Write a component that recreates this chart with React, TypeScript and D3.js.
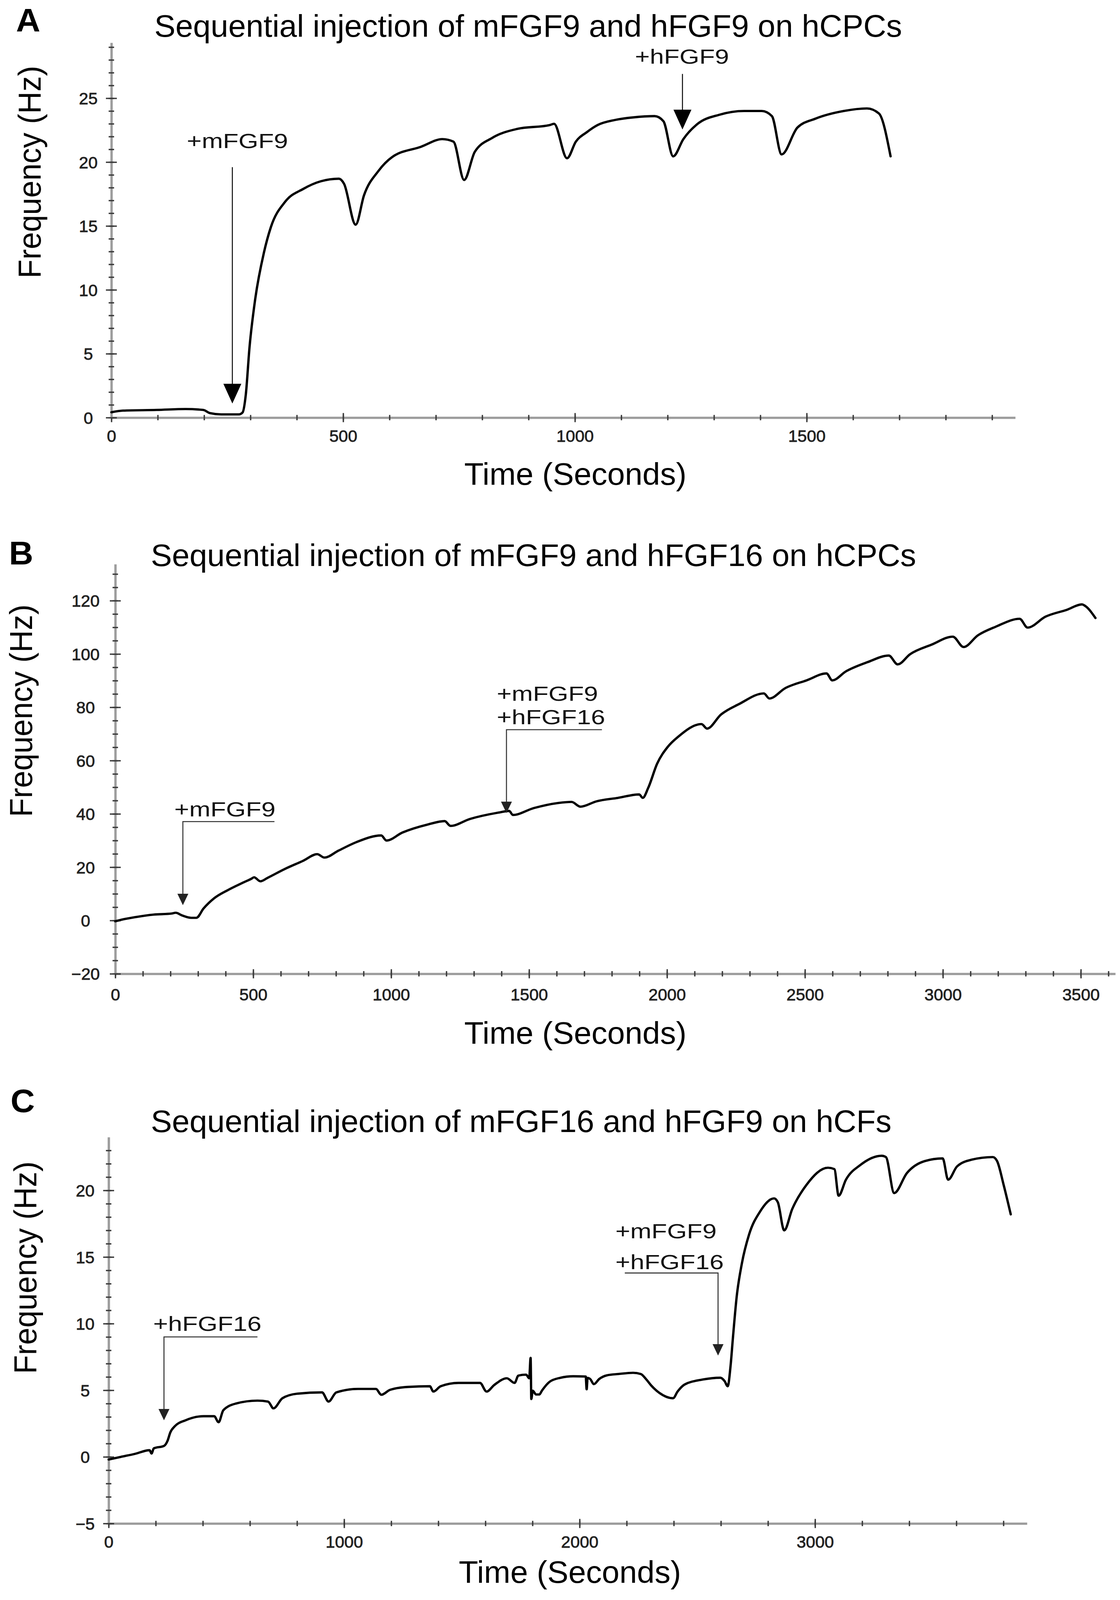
import { useEffect, useRef, useState } from 'react'
import * as d3 from 'd3'

const W = 2866
const H = 4203
const FONT = '"Liberation Sans", Arial, Helvetica, sans-serif'

// --- panel A: mFGF9 then hFGF9 on hCPCs
const timeA = [0, 25, 98, 160, 198, 213, 237, 275, 283, 290, 298, 310, 329, 344, 375, 414, 452, 491, 502, 527, 545, 576, 606, 668, 714, 738, 761, 784, 822, 876, 946, 955, 983, 1002, 1026, 1049, 1087, 1126, 1172, 1191, 1212, 1234, 1265, 1311, 1365, 1403, 1425, 1446, 1480, 1519, 1580, 1630, 1656, 1681]
const freqA = [0.42, 0.55, 0.6, 0.67, 0.6, 0.35, 0.25, 0.25, 0.4, 1.8, 5.5, 9.2, 12.9, 14.9, 16.9, 17.9, 18.5, 18.7, 18.3, 15.1, 17.4, 19.3, 20.4, 21.2, 21.8, 21.6, 18.6, 20.8, 21.9, 22.6, 22.9, 23.0, 20.3, 21.6, 22.35, 22.9, 23.3, 23.5, 23.6, 23.2, 20.45, 21.8, 23.0, 23.7, 24.0, 24.0, 23.6, 20.6, 22.7, 23.4, 24.0, 24.2, 23.8, 20.45]
const xTicksA = [0, 500, 1000, 1500]
const yTicksA = [0, 5, 10, 15, 20, 25]

// --- panel B: mFGF9 then hFGF16 on hCPCs
const timeB = [0, 23, 75, 139, 204, 219, 242, 275, 294, 320, 358, 410, 461, 494, 503, 526, 552, 616, 681, 732, 758, 809, 874, 964, 983, 1041, 1132, 1194, 1215, 1286, 1390, 1428, 1441, 1518, 1606, 1654, 1686, 1744, 1822, 1899, 1912, 1932, 1964, 2003, 2041, 2125, 2145, 2196, 2261, 2351, 2371, 2429, 2506, 2578, 2599, 2649, 2726, 2804, 2836, 2881, 2959, 3036, 3075, 3127, 3191, 3278, 3307, 3372, 3450, 3504, 3521, 3553]
const freqB = [-0.3, 0.3, 1.3, 2.2, 2.6, 2.9, 1.9, 1.0, 1.0, 4.5, 8.3, 11.5, 14.1, 15.7, 16.2, 14.7, 16, 19.4, 22.4, 24.9, 23.6, 26.2, 29.4, 31.9, 30.0, 33, 36, 37.3, 35.5, 38.1, 40.5, 41.1, 39.6, 42.2, 44.1, 44.5, 42.7, 44.7, 46, 47.3, 46, 49.8, 58.8, 65.2, 69, 73.7, 72, 77.3, 81.2, 85.2, 83.3, 87.2, 90.1, 92.7, 90.1, 93.5, 96.9, 99.4, 96.1, 99.9, 103.5, 106.5, 102.6, 107, 110.2, 113.2, 109.9, 114, 116.6, 118.6, 117.6, 113.5]
const xTicksB = [0, 500, 1000, 1500, 2000, 2500, 3000, 3500]
const yTicksB = [-20, 0, 20, 40, 60, 80, 100, 120]

// --- panel C: hFGF16 then mFGF9 + hFGF16 on hCFs
const timeC = [0, 52, 113, 174, 182, 192, 235, 250, 262, 281, 326, 403, 448, 467, 487, 540, 632, 677, 700, 738, 800, 906, 934, 967, 1059, 1135, 1158, 1196, 1272, 1364, 1379, 1410, 1486, 1577, 1605, 1638, 1691, 1724, 1740, 1773, 1786, 1792, 1795, 1801, 1815, 1829, 1840, 1873, 1917, 1973, 2026, 2030, 2034, 2045, 2061, 2083, 2116, 2166, 2227, 2260, 2282, 2304, 2339, 2397, 2416, 2446, 2522, 2598, 2616, 2629, 2641, 2651, 2667, 2689, 2720, 2766, 2826, 2842, 2869, 2903, 2963, 3055, 3082, 3100, 3131, 3192, 3283, 3301, 3336, 3390, 3466, 3542, 3565, 3603, 3664, 3755, 3773, 3801, 3831]
const freqC = [-0.2, 0, 0.23, 0.5, 0.25, 0.64, 0.82, 1.2, 1.84, 2.3, 2.74, 3.05, 3.05, 2.6, 3.5, 4.0, 4.22, 4.15, 3.64, 4.4, 4.74, 4.84, 4.15, 4.84, 5.1, 5.1, 4.66, 5.04, 5.25, 5.3, 4.9, 5.3, 5.55, 5.55, 4.9, 5.4, 5.9, 5.55, 6.1, 6.17, 5.9, 7.43, 4.34, 4.97, 4.68, 4.68, 4.97, 5.64, 5.93, 6.05, 6.03, 5.07, 5.93, 5.84, 5.46, 5.84, 6.12, 6.22, 6.31, 6.22, 5.84, 5.36, 4.8, 4.4, 4.9, 5.43, 5.8, 5.94, 5.68, 5.3, 6.8, 8.9, 12, 14.5, 16.7, 18.4, 19.4, 19.1, 17.0, 18.6, 20.4, 21.7, 21.6, 19.6, 20.8, 21.9, 22.6, 22.5, 19.8, 21.3, 22.2, 22.4, 20.8, 21.8, 22.3, 22.5, 22.2, 20.4, 18.2]
const xTicksC = [0, 1000, 2000, 3000]
const yTicksC = [-5, 0, 5, 10, 15, 20]

type Note = {
  lines: string[]
  tx: number
  ty: number[]
  anchor: 'start' | 'middle'
  path: [number, number][]
  head: 'big' | 'small'
}

const notesA: Note[] = [
  { lines: ['+mFGF9'], tx: 272, ty: [21.1], anchor: 'middle', path: [[261, 19.6], [261, 1.1]], head: 'big' },
  { lines: ['+hFGF9'], tx: 1231, ty: [27.7], anchor: 'middle', path: [[1232, 26.9], [1232, 22.55]], head: 'big' },
]
const notesB: Note[] = [
  { lines: ['+mFGF9'], tx: 214, ty: [39], anchor: 'start', path: [[577, 37.1], [245, 37.1], [245, 5.75]], head: 'small' },
  { lines: ['+mFGF9', '+hFGF16'], tx: 1383, ty: [82.4, 73.7], anchor: 'start', path: [[1764, 71.6], [1418, 71.6], [1418, 40.3]], head: 'small' },
]
const notesC: Note[] = [
  { lines: ['+hFGF16'], tx: 189, ty: [9.45], anchor: 'start', path: [[632, 9.0], [235, 9.0], [235, 2.74]], head: 'small' },
  { lines: ['+mFGF9', '+hFGF16'], tx: 2152, ty: [16.4, 14.1], anchor: 'start', path: [[2192, 13.8], [2588, 13.8], [2588, 7.6]], head: 'small' },
]

interface PanelCfg {
  letter: string
  letterPos: [number, number]
  title: string
  titlePos: [number, number]
  yLabelPos: [number, number]
  xLabelPos: [number, number]
  xDomain: [number, number]
  xRange: [number, number]
  yDomain: [number, number]
  yRange: [number, number]
  time: number[]
  freq: number[]
  xTicks: number[]
  yTicks: number[]
  xMinorStep: number
  yMinorStep: number
  yTickX: number
  xTickOff: number
  notes: Note[]
}

const panels: PanelCfg[] = [
  {
    letter: 'A', letterPos: [41, 83],
    title: 'Sequential injection of mFGF9 and hFGF9 on hCPCs', titlePos: [395, 96],
    yLabelPos: [75, 452], xLabelPos: [1188, 1273],
    xDomain: [0, 1950], xRange: [285, 2598],
    yDomain: [0, 29.35], yRange: [1097, 112],
    time: timeA, freq: freqA, xTicks: xTicksA, yTicks: yTicksA,
    xMinorStep: 100, yMinorStep: 1, yTickX: 226, xTickOff: 48, notes: notesA,
  },
  {
    letter: 'B', letterPos: [23, 1483],
    title: 'Sequential injection of mFGF9 and hFGF16 on hCPCs', titlePos: [386, 1487],
    yLabelPos: [53, 1867], xLabelPos: [1188, 2742],
    xDomain: [0, 3625], xRange: [295, 2854],
    yDomain: [-20, 133.7], yRange: [2558, 1482],
    time: timeB, freq: freqB, xTicks: xTicksB, yTicks: yTicksB,
    xMinorStep: 100, yMinorStep: 5, yTickX: 219, xTickOff: 54, notes: notesB,
  },
  {
    letter: 'C', letterPos: [27, 2921],
    title: 'Sequential injection of mFGF16 and hFGF9 on hCFs', titlePos: [386, 2974],
    yLabelPos: [64, 3330], xLabelPos: [1174, 4158],
    xDomain: [0, 3900], xRange: [278, 2628],
    yDomain: [-5, 24], yRange: [4002, 2987],
    time: timeC, freq: freqC, xTicks: xTicksC, yTicks: yTicksC,
    xMinorStep: 200, yMinorStep: 1, yTickX: 218, xTickOff: 48, notes: notesC,
  },
]

function Panel({ cfg }: { cfg: PanelCfg }) {
  const ref = useRef<SVGGElement>(null)

  useEffect(() => {
    if (!ref.current) return
    const g = d3.select(ref.current)
    g.selectAll('*').remove()

    const x = d3.scaleLinear().domain(cfg.xDomain).range(cfg.xRange)
    const y = d3.scaleLinear().domain(cfg.yDomain).range(cfg.yRange)
    const yBase = y(cfg.yDomain[0])
    const x0 = x(0)

    const xMinor = d3.range(0, cfg.xDomain[1], cfg.xMinorStep)
    const yMinor = d3.range(cfg.yDomain[0], cfg.yDomain[1], cfg.yMinorStep)

    // x axis: grey rule, dark ticks crossing it
    const xa = g.append('g').attr('transform', `translate(0,${yBase})`)
      .call(d3.axisBottom(x).tickValues(xMinor).tickSize(7).tickSizeOuter(0).tickFormat(() => ''))
    xa.select('.domain').attr('stroke', '#9c9c9c').attr('stroke-width', 6)
    xa.selectAll('.tick line').attr('y1', -7).attr('stroke', '#3a3a3a').attr('stroke-width', 3.5)

    const xm = g.append('g').attr('transform', `translate(0,${yBase})`)
      .call(d3.axisBottom(x).tickValues(cfg.xTicks).tickSize(12).tickSizeOuter(0).tickFormat(d3.format('d')))
    xm.select('.domain').remove()
    xm.selectAll('.tick line').attr('y1', -12).attr('stroke', '#3a3a3a').attr('stroke-width', 3.5)
    xm.selectAll('.tick text')
      .attr('y', cfg.xTickOff).attr('dy', '0.36em')
      .attr('font-family', FONT).attr('font-size', 43).attr('fill', '#222')
      .attr('stroke', '#222').attr('stroke-width', 1)

    // y axis
    const ya = g.append('g').attr('transform', `translate(${x0},0)`)
      .call(d3.axisLeft(y).tickValues(yMinor).tickSize(7).tickSizeOuter(0).tickFormat(() => ''))
    ya.select('.domain').attr('stroke', '#9c9c9c').attr('stroke-width', 6)
    ya.selectAll('.tick line').attr('x2', 7).attr('x1', -7).attr('stroke', '#3a3a3a').attr('stroke-width', 3.5)

    const ym = g.append('g').attr('transform', `translate(${x0},0)`)
      .call(d3.axisLeft(y).tickValues(cfg.yTicks).tickSize(14).tickSizeOuter(0).tickFormat(d3.format('d')))
    ym.select('.domain').remove()
    ym.selectAll('.tick line').attr('x1', 14).attr('x2', -14).attr('stroke', '#3a3a3a').attr('stroke-width', 3.5)
    ym.selectAll('.tick text')
      .attr('x', cfg.yTickX - x0).attr('dy', '0.36em').attr('text-anchor', 'middle')
      .attr('font-family', FONT).attr('font-size', 43).attr('fill', '#222')
      .attr('stroke', '#222').attr('stroke-width', 1)

    // trace
    const pts = cfg.time.map((t, i) => [t, cfg.freq[i]] as [number, number])
    const line = d3.line<[number, number]>()
      .x(d => x(d[0])).y(d => y(d[1]))
      .curve(d3.curveMonotoneX)
    g.append('path')
      .attr('d', line(pts) as string)
      .attr('fill', 'none').attr('stroke', '#000')
      .attr('stroke-width', 6).attr('stroke-linejoin', 'round').attr('stroke-linecap', 'round')

    // injection markers
    cfg.notes.forEach(n => {
      n.lines.forEach((s, i) => {
        const t = g.append('text')
          .attr('x', x(n.tx)).attr('y', y(n.ty[i]))
          .attr('text-anchor', n.anchor)
          .attr('font-family', FONT).attr('font-size', 53).attr('fill', '#111')
          .text(s)
        const node = t.node() as SVGTextElement
        const len = node.getComputedTextLength()
        t.attr('textLength', len * 1.23).attr('lengthAdjust', 'spacingAndGlyphs')
      })
      const big = n.head === 'big'
      const hh = big ? 52 : 30
      const hw = big ? 23 : 14
      const px = n.path.map(p => [x(p[0]), y(p[1])] as [number, number])
      const tip = px[px.length - 1]
      const shaft = px.slice(0, -1).concat([[tip[0], tip[1] - hh + 2]])
      g.append('path')
        .attr('d', d3.line()(shaft) as string)
        .attr('fill', 'none').attr('stroke', big ? '#111' : '#333').attr('stroke-width', 2.6)
      g.append('path')
        .attr('d', `M${tip[0]},${tip[1]}L${tip[0] - hw},${tip[1] - hh}L${tip[0] + hw},${tip[1] - hh}Z`)
        .attr('fill', big ? '#000' : '#222')
    })

    // texts
    g.append('text')
      .attr('x', cfg.letterPos[0]).attr('y', cfg.letterPos[1])
      .attr('font-family', FONT).attr('font-weight', 'bold').attr('font-size', 86).attr('fill', '#000')
      .text(cfg.letter)
    g.append('text')
      .attr('x', cfg.titlePos[0]).attr('y', cfg.titlePos[1])
      .attr('font-family', FONT).attr('font-size', 81).attr('fill', '#000')
      .text(cfg.title)
    g.append('text')
      .attr('transform', `translate(${cfg.yLabelPos[0]},${cfg.yLabelPos[1]}) rotate(-90)`)
      .attr('text-anchor', 'middle').attr('dy', '0.36em')
      .attr('font-family', FONT).attr('font-size', 81).attr('fill', '#000')
      .text('Frequency (Hz)')
    g.append('text')
      .attr('x', cfg.xLabelPos[0]).attr('y', cfg.xLabelPos[1])
      .attr('font-family', FONT).attr('font-size', 81).attr('fill', '#000')
      .text('Time (Seconds)')
  }, [cfg])

  return <g ref={ref} />
}

export default function App() {
  // if the visible area is shorter than the figure, squeeze it vertically so nothing is lost
  const [vh, setVh] = useState(H)

  useEffect(() => {
    document.body.style.margin = '0'
    document.body.style.overflow = 'hidden'
    document.documentElement.style.overflow = 'hidden'
    const h = window.innerHeight
    if (h > 0 && h < H) setVh(h)
  }, [])

  return (
    <svg width={W} height={vh} viewBox={`0 0 ${W} ${H}`} preserveAspectRatio="none"
      style={{ display: 'block', background: '#fff', position: 'absolute', left: 0, top: 0 }}>
      <rect width={W} height={H} fill="#fff" />
      {panels.map(p => <Panel key={p.letter} cfg={p} />)}
    </svg>
  )
}
